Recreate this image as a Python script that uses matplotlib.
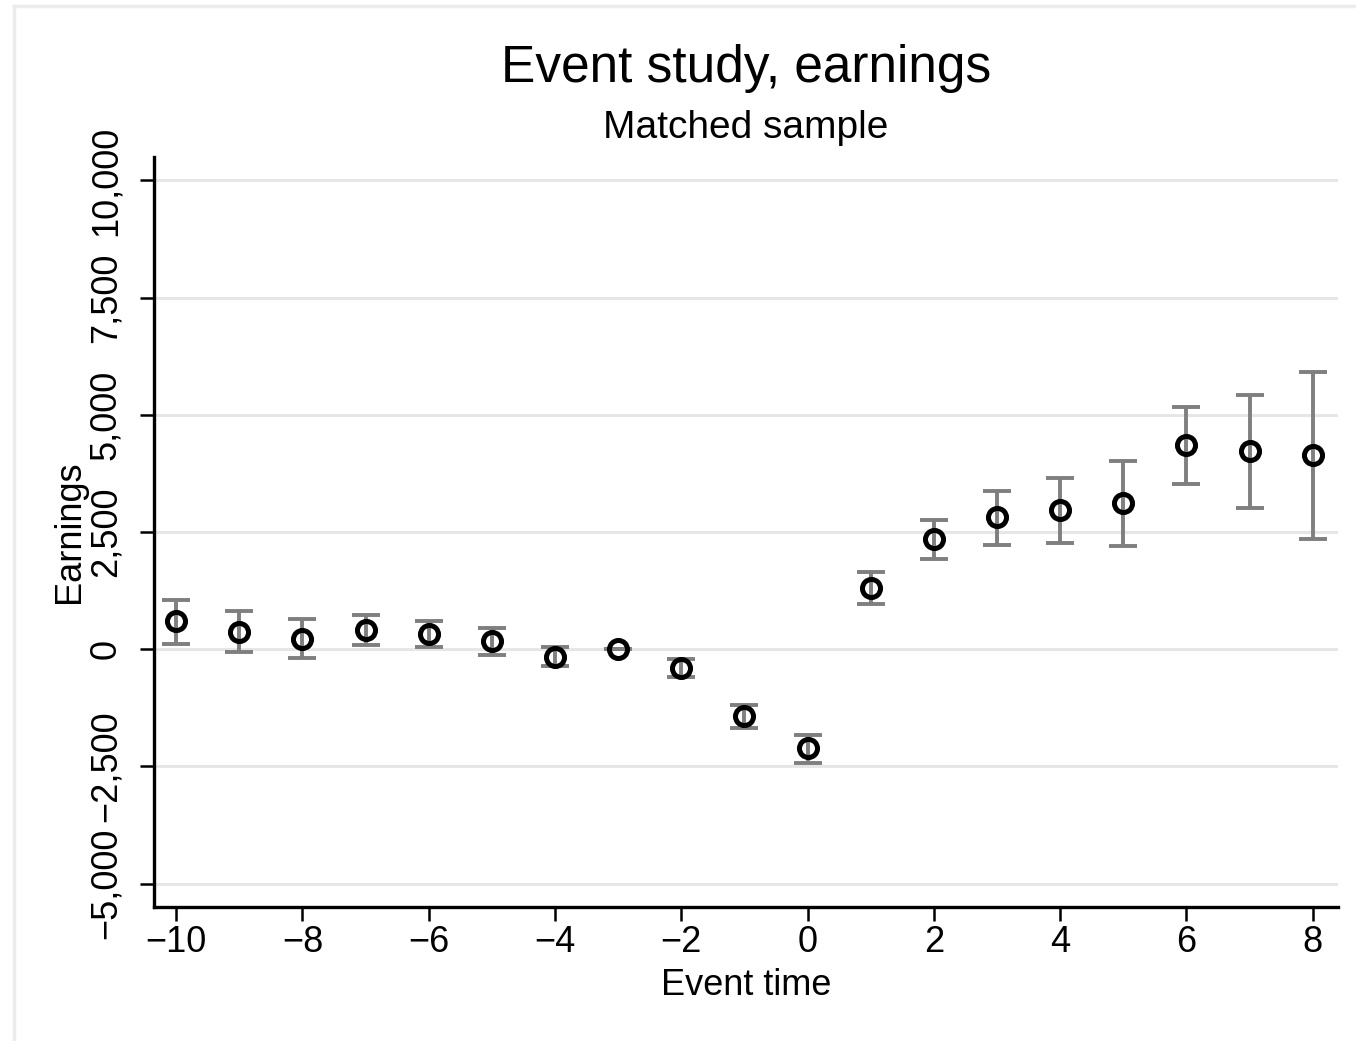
import numpy as np
import matplotlib.pyplot as plt
from matplotlib.ticker import FuncFormatter
from matplotlib.lines import Line2D

plt.rcParams['font.family'] = ['Liberation Sans', 'DejaVu Sans']

# event time and point estimates, 95% CI bounds
event_time = [-10, -9, -8, -7, -6, -5, -4, -3, -2, -1, 0, 1, 2, 3, 4, 5, 6, 7, 8]
coef = [600, 360, 215, 405, 320, 170, -170, 0, -405, -1430, -2110,
        1300, 2345, 2815, 2965, 3115, 4350, 4220, 4135]
ci_low = [105, -65, -190, 85, 45, -130, -360, 0, -595, -1690, -2430,
          960, 1920, 2215, 2260, 2195, 3520, 3005, 2345]
ci_high = [1045, 810, 640, 725, 595, 450, 45, 0, -215, -1195, -1835,
           1640, 2750, 3370, 3645, 4010, 5160, 5415, 5905]

yticks = [-5000, -2500, 0, 2500, 5000, 7500, 10000]
xticks = [-10, -8, -6, -4, -2, 0, 2, 4, 6, 8]

coef = np.array(coef)
yerr = np.vstack([coef - np.array(ci_low), np.array(ci_high) - coef])

fig = plt.figure(figsize=(13.56, 10.41), dpi=100, facecolor='w')
ax = fig.add_axes([0.1136, 0.1287, 0.8731, 0.7205])

#---------------------grid lines-----------------------------------------------
for yt in yticks:
    ax.axhline(yt, color='#e6e6e6', lw=2.2, zorder=0)

ax.errorbar(event_time, coef, yerr=yerr, fmt='none', ecolor='#7f7f7f',
            elinewidth=2.8, capsize=10, capthick=2.8, zorder=2)
ax.plot(event_time, coef, 'o', ms=13, mfc='none', mec='black', mew=3.6,
        zorder=3)

ax.set_xlim(-10.35, 8.4)
ax.set_ylim(-5500, 10500)
ax.set_xticks(xticks)
ax.set_yticks(yticks)
ax.xaxis.set_major_formatter(FuncFormatter(lambda v, p: f'{int(v)}'.replace('-', '\u2212')))
ax.yaxis.set_major_formatter(FuncFormatter(lambda v, p: f'{int(v):,}'.replace('-', '\u2212')))

for s in ['top', 'right']:
    ax.spines[s].set_visible(False)
for s in ['left', 'bottom']:
    ax.spines[s].set_linewidth(2.4)

ax.tick_params(axis='both', length=10, width=1.8, labelsize=26)
ax.tick_params(axis='x', pad=3)
ax.tick_params(axis='y', pad=12)
plt.setp(ax.get_yticklabels(), rotation=90, va='center')

ax.set_xlabel('Event time', fontsize=26, labelpad=6)
ax.set_ylabel('Earnings', fontsize=26, labelpad=1)

fig.text(0.550, 0.921, 'Event study, earnings', ha='center', va='baseline', fontsize=37)
fig.text(0.550, 0.867, 'Matched sample', ha='center', va='baseline', fontsize=28)

# light frame around the figure (left and top edges)
fig.add_artist(Line2D([0.0100, 0.0100], [0.0, 0.9945], transform=fig.transFigure,
                      color='#ececec', lw=2.5))
fig.add_artist(Line2D([0.0100, 1.0], [0.9945, 0.9945], transform=fig.transFigure,
                      color='#ececec', lw=2.5))

fig.savefig('out.png', dpi=100, facecolor='w')
